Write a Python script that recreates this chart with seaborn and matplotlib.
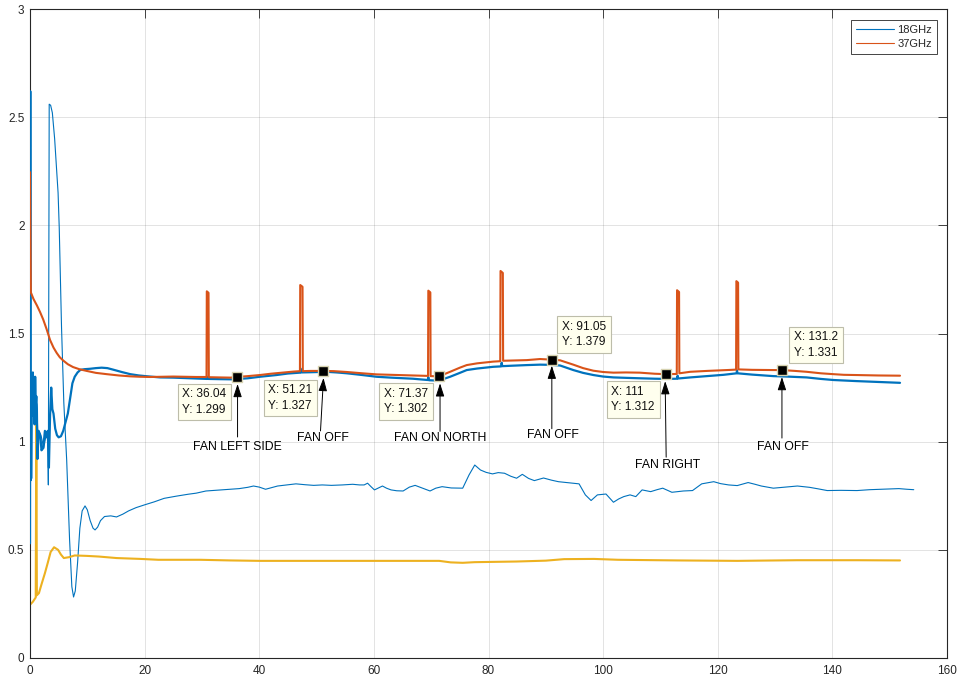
import matplotlib
matplotlib.use("Agg")
import matplotlib.pyplot as plt
from matplotlib.lines import Line2D
from matplotlib.ticker import FormatStrFormatter
from matplotlib.transforms import offset_copy
import seaborn as sns

# ---------------- data ----------------
# 37GHz channel (with the short fan-switch spikes)
x37 = [0, 0.15, 0.6, 1.2, 1.74, 2.3, 2.9, 3.5, 4.1, 4.66, 5.2, 5.8, 6.6, 7.5, 8.6, 9.9,
       11.5, 13.4, 15.5, 17.5, 19.2, 21, 23, 25, 27, 29, 30.8, 30.85, 31.15, 31.2, 33, 35,
       36.04, 38, 40.1, 42, 44, 46, 47.1, 47.15, 47.55, 47.6, 49, 51.21, 53, 55.3, 58, 60.5,
       63, 66.8, 69.45, 69.5, 69.85, 69.9, 71.37, 73.3, 75, 76.2, 78, 80.8, 82.05, 82.1,
       82.5, 82.55, 84, 86.7, 89, 91.05, 92.5, 94.8, 96.5, 98.3, 100, 101.8, 104, 106.4,
       109, 111, 112.85, 112.9, 113.25, 113.3, 115.2, 118.1, 121.6, 123.2, 123.25, 123.55,
       123.6, 126, 129.7, 131.2, 133.5, 135.5, 138, 140.2, 142, 144.2, 148, 151.8]
y37 = [2.246, 1.69, 1.66, 1.63, 1.60, 1.565, 1.52, 1.47, 1.435, 1.41, 1.39, 1.375, 1.358,
       1.345, 1.335, 1.327, 1.318, 1.312, 1.306, 1.302, 1.300, 1.299, 1.300, 1.301, 1.300,
       1.299, 1.299, 1.695, 1.688, 1.298, 1.297, 1.296, 1.299, 1.303, 1.308, 1.314, 1.319,
       1.324, 1.326, 1.724, 1.716, 1.326, 1.327, 1.327, 1.326, 1.322, 1.316, 1.311, 1.309,
       1.306, 1.304, 1.698, 1.690, 1.303, 1.302, 1.323, 1.342, 1.354, 1.362, 1.370, 1.372,
       1.789, 1.780, 1.374, 1.375, 1.377, 1.382, 1.379, 1.376, 1.356, 1.340, 1.328, 1.322,
       1.319, 1.320, 1.319, 1.314, 1.312, 1.313, 1.700, 1.692, 1.316, 1.323, 1.327, 1.331,
       1.333, 1.742, 1.735, 1.334, 1.332, 1.331, 1.331, 1.327, 1.323, 1.316, 1.312, 1.309,
       1.308, 1.306, 1.305]

# 18GHz channel, upper trace
x18a = [0, 0.05, 0.1, 0.2, 0.3, 0.4, 0.5, 0.6, 0.7, 0.8, 0.9, 1.0, 1.1, 1.2, 1.3, 1.5, 1.8,
        2.0, 2.3, 2.6, 2.9, 3.1, 3.3, 3.5, 3.7, 3.9, 4.1, 4.4, 4.7, 5.0, 5.4, 5.8, 6.2, 6.6,
        7.0, 7.4, 7.8, 8.3, 8.8, 9.5, 10.5, 11.5, 12.5, 13.5, 14.5, 16, 17.5, 19, 20.5, 22.7,
        25, 28, 30.9, 31.0, 31.1, 33, 35.5, 38, 40.1, 43, 45, 47.1, 47.2, 47.3, 49, 51.7,
        53.5, 55.3, 58, 60.5, 63, 66.8, 69.4, 69.5, 69.6, 71.3, 73.3, 75, 76.2, 78, 80.8,
        82.2, 82.3, 82.4, 84, 86.7, 89, 91, 92.5, 94.8, 96.5, 98.3, 100, 101.8, 104, 106.4,
        109, 111.1, 112.9, 113.0, 113.1, 115.2, 118.1, 121, 123.3, 123.35, 123.45, 126,
        129.7, 132, 135.5, 138, 140.2, 144.2, 148, 151.8]
y18a = [0.53, 2.62, 1.30, 0.83, 1.27, 1.12, 1.32, 1.16, 1.22, 1.08, 1.30, 1.17, 1.21, 1.15,
        0.92, 1.05, 1.03, 0.96, 0.97, 1.05, 1.02, 1.05, 0.88, 1.12, 1.25, 1.15, 1.13, 1.06,
        1.03, 1.02, 1.025, 1.05, 1.09, 1.13, 1.20, 1.27, 1.30, 1.32, 1.332, 1.335, 1.337,
        1.340, 1.342, 1.340, 1.333, 1.322, 1.312, 1.306, 1.302, 1.297, 1.296, 1.293, 1.290,
        1.300, 1.290, 1.289, 1.288, 1.293, 1.300, 1.308, 1.315, 1.319, 1.338, 1.320, 1.321,
        1.323, 1.320, 1.316, 1.308, 1.300, 1.296, 1.291, 1.285, 1.298, 1.284, 1.282, 1.300,
        1.318, 1.331, 1.338, 1.346, 1.348, 1.365, 1.349, 1.351, 1.354, 1.356, 1.355, 1.352,
        1.331, 1.318, 1.308, 1.301, 1.297, 1.295, 1.293, 1.291, 1.290, 1.291, 1.305, 1.292,
        1.297, 1.303, 1.309, 1.316, 1.330, 1.316, 1.310, 1.303, 1.301, 1.297, 1.290, 1.285,
        1.280, 1.276, 1.272]

# 18GHz channel, lower trace
x18b = [0, 0.1, 0.25, 0.4, 0.6, 0.8, 1.0, 1.2, 1.4, 1.7, 2.0, 2.4, 2.8, 3.1, 3.2, 3.35, 3.6,
        3.9, 4.3, 4.65, 4.9, 5.1, 5.5, 5.9, 6.4, 6.9, 7.3, 7.6, 7.9, 8.3, 8.7, 9.1, 9.6, 10.0,
        10.5, 11.0, 11.35, 11.8, 12.3, 13.0, 14.1, 15.1, 16.2, 17.2, 18.5, 20, 21.7, 23.4,
        25.5, 27.6, 29, 30.7, 32.8, 34.9, 36.5, 38, 39, 40, 41.1, 42.2, 43.2, 44.8, 46.4, 48,
        49.5, 51, 52.6, 54.5, 56.3, 57.5, 58.3, 58.9, 59.5, 60.1, 61.5, 62.2, 63, 64, 65.1,
        66.2, 67.2, 68.5, 69.8, 70.8, 71.9, 73.5, 75.5, 76.6, 77.6, 78.6, 79.6, 80.7, 81.7,
        82.8, 83.9, 84.9, 85.9, 87, 88, 89.6, 91, 92.2, 94, 95.8, 96.9, 97.9, 99, 100.5,
        101.8, 102.7, 103.6, 104.7, 105.7, 106.8, 108.3, 109.4, 110.4, 112, 114, 115.6,
        117.2, 119.3, 120.5, 121.9, 123.4, 125.3, 126.5, 127.6, 129.7, 131.8, 133.9, 136,
        137.5, 139.1, 141.5, 144.3, 146.5, 148.4, 150, 151.6, 153, 154.2]
y18b = [0.62, 1.32, 0.82, 1.22, 1.18, 1.30, 1.20, 1.17, 1.00, 1.04, 1.02, 0.97, 1.03, 1.02,
        0.80, 2.56, 2.555, 2.52, 2.40, 2.255, 2.15, 1.99, 1.53, 1.18, 0.915, 0.55, 0.33,
        0.282, 0.31, 0.44, 0.60, 0.68, 0.703, 0.685, 0.635, 0.600, 0.592, 0.605, 0.635,
        0.654, 0.657, 0.652, 0.665, 0.680, 0.695, 0.708, 0.722, 0.738, 0.748, 0.757, 0.762,
        0.772, 0.776, 0.780, 0.783, 0.789, 0.795, 0.790, 0.780, 0.788, 0.795, 0.800, 0.805,
        0.801, 0.798, 0.800, 0.798, 0.800, 0.803, 0.800, 0.800, 0.808, 0.792, 0.777, 0.795,
        0.785, 0.777, 0.773, 0.772, 0.790, 0.798, 0.785, 0.772, 0.785, 0.792, 0.786, 0.785,
        0.846, 0.892, 0.869, 0.858, 0.851, 0.857, 0.854, 0.840, 0.831, 0.849, 0.830, 0.820,
        0.832, 0.822, 0.815, 0.810, 0.805, 0.754, 0.728, 0.754, 0.758, 0.720, 0.735, 0.746,
        0.754, 0.746, 0.777, 0.769, 0.778, 0.785, 0.766, 0.772, 0.774, 0.805, 0.815, 0.806,
        0.800, 0.797, 0.811, 0.803, 0.795, 0.785, 0.790, 0.795, 0.789, 0.782, 0.774, 0.775,
        0.774, 0.778, 0.780, 0.782, 0.783, 0.780, 0.778]

# reference trace
xref = [0, 0.5, 1.0, 1.1, 1.2, 1.56, 2.0, 2.6, 3.1, 3.6, 4.2, 4.9, 5.4, 5.9, 6.8, 7.8, 9.9,
        12, 15.1, 19.3, 22.4, 29.7, 34.9, 40.1, 50.5, 60.9, 71.4, 73.4, 75.5, 77.6, 84.9, 90,
        93.2, 98.4, 102.6, 113, 123.4, 133.9, 144.3, 151.8]
yref = [0.246, 0.26, 0.28, 1.09, 0.29, 0.30, 0.34, 0.392, 0.44, 0.49, 0.512, 0.50, 0.478,
        0.462, 0.466, 0.474, 0.472, 0.469, 0.462, 0.458, 0.454, 0.454, 0.451, 0.449, 0.449,
        0.449, 0.449, 0.442, 0.440, 0.443, 0.446, 0.450, 0.457, 0.458, 0.454, 0.451, 0.449,
        0.452, 0.452, 0.451]

# data tips on the 37GHz trace and the events they mark
tip_x = [36.04, 51.21, 71.37, 91.05, 111, 131.2]
tip_y = [1.299, 1.327, 1.302, 1.379, 1.312, 1.331]
events = ["FAN LEFT SIDE", "FAN OFF", "FAN ON NORTH", "FAN OFF", "FAN RIGHT", "FAN OFF"]
series_labels = ["18GHz", "37GHz"]

# ---------------- styling ----------------
C_BLUE = "#0072BD"
C_ORANGE = "#D95319"
C_YELLOW = "#EDB120"
C_AX = "#262626"

sns.set_theme(style="white")
plt.rcParams['font.family'] = ['Liberation Sans', 'DejaVu Sans']

fig = plt.figure(figsize=(9.57, 6.8), dpi=100)
ax = fig.add_axes([30 / 957, 22 / 680, 917 / 957, 649 / 680])

common = dict(ax=ax, estimator=None, sort=False, legend=False)
sns.lineplot(x=x18b, y=y18b, color=C_BLUE, lw=0.8, zorder=2, **common)
sns.lineplot(x=xref, y=yref, color=C_YELLOW, lw=1.5, zorder=2, **common)
sns.lineplot(x=x18a, y=y18a, color=C_BLUE, lw=1.6, zorder=3, **common)
sns.lineplot(x=x37, y=y37, color=C_ORANGE, lw=1.5, zorder=3, **common)

sns.scatterplot(x=tip_x, y=tip_y, ax=ax, marker="s", s=50, color="black",
                edgecolor="#D6D2B0", linewidth=1.0, zorder=6, legend=False)

# data-tip boxes (pixel offsets from each marker)
box_off = [(-32, -25), (-33, -27), (-33, -25), (32, 25), (-33, -25), (34, 25)]
for x, y, (dx, dy) in zip(tip_x, tip_y, box_off):
    ax.annotate(f"X: {x:.4g}\nY: {y:.4g}", xy=(x, y), xytext=(dx, dy),
                textcoords="offset pixels", ha="center", va="center",
                multialignment="left", fontsize=8.6, linespacing=1.35, color="#111111",
                bbox=dict(boxstyle="square,pad=0.4", fc="#FFFFEE", ec="#BDBDAA", lw=0.8),
                zorder=7)

# event labels with arrows pointing at the tips (pixel offsets from markers)
text_off = [(1, -70), (-1, -67), (1, -62), (1, -75), (1, -91), (1, -77)]
tail_off = [(1, -60), (-3, -60), (1, -55), (0, -69), (0, -83), (0, -68)]
head_off = [(1, -7), (0, -7), (1, -7), (0, -6), (-1, -7), (0, -7)]
for x, y, lab, to, ta, hd in zip(tip_x, tip_y, events, text_off, tail_off, head_off):
    ax.annotate(lab, xy=(x, y), xytext=to, textcoords="offset pixels",
                ha="center", va="center", fontsize=8.8, color="black", zorder=7)
    ax.annotate("", xy=(x, y), xytext=(x, y),
                xycoords=offset_copy(ax.transData, fig=fig, x=hd[0], y=hd[1], units="dots"),
                textcoords=offset_copy(ax.transData, fig=fig, x=ta[0], y=ta[1], units="dots"),
                arrowprops=dict(arrowstyle="-|>,head_length=0.8,head_width=0.26",
                                color="black", lw=0.7, shrinkA=0, shrinkB=0,
                                mutation_scale=10),
                zorder=7)

# axes
ax.set_xlim(0, 160)
ax.set_ylim(0, 3)
ax.set_xticks(range(0, 161, 20))
ax.set_yticks([0, 0.5, 1, 1.5, 2, 2.5, 3])
ax.yaxis.set_major_formatter(FormatStrFormatter("%g"))
ax.grid(True, color=C_AX, alpha=0.15, lw=0.6)
ax.set_axisbelow(True)
for sp in ax.spines.values():
    sp.set_color(C_AX)
    sp.set_linewidth(0.8)
ax.tick_params(direction="in", length=6.5, width=0.6, top=True, right=True,
               color=C_AX, labelcolor=C_AX, labelsize=8.5)
ax.tick_params(axis="x", pad=5)
ax.tick_params(axis="y", pad=4)

handles = [Line2D([], [], color=C_BLUE, lw=0.8), Line2D([], [], color=C_ORANGE, lw=0.8)]
leg = ax.legend(handles, series_labels, loc="upper right", bbox_to_anchor=(0.989, 0.983),
                borderaxespad=0, fontsize=8, frameon=True, fancybox=False,
                edgecolor=C_AX, framealpha=1, handlelength=3.4, handletextpad=0.3,
                borderpad=0.45, labelspacing=0.35)
leg.get_frame().set_linewidth(0.6)

fig.savefig("out.png", dpi=100)
